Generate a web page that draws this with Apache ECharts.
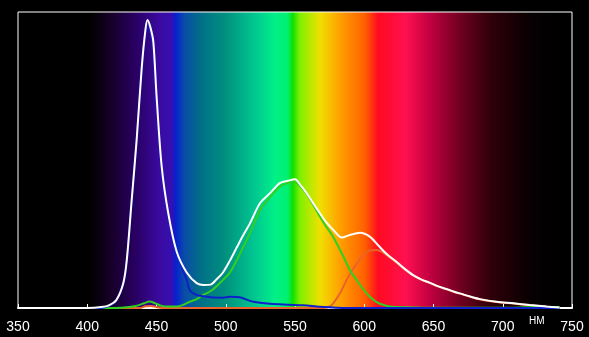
<!DOCTYPE html>
<html><head><meta charset="utf-8">
<script src="https://cdn.jsdelivr.net/npm/echarts@6/dist/echarts.min.js"></script>
<style>html,body{margin:0;padding:0;background:#000;}#c{width:589px;height:337px;}</style>
</head><body><div id="c"></div>
<script>
const xTicks = [350, 400, 450, 500, 550, 600, 650, 700, 750];
const unitLabel = 'НМ';
const white = [[350,0],[400,0],[410,0.3],[416,1],[421,2.7],[426,8.4],[428.5,16],[432,36],[435.7,57],[439.3,81],[442,94],[443.5,97.3],[445.5,95],[447.7,90],[450,72],[453.7,48],[458.5,32],[464.6,19],[471.8,12],[479,8.4],[484,7.8],[489,7.9],[493,9.5],[498,12],[503,16],[508,20.5],[512.5,24.5],[517.5,28.6],[524.7,35.4],[532,38.8],[539,42.2],[545,43],[550,43.5],[554,41.5],[558.4,38.8],[563,35.5],[568,32],[572.5,29],[577.6,26.4],[583.7,23.8],[589.7,24.7],[597,25.4],[604,24.1],[610,21.2],[616,18.3],[623,15.7],[629,13.3],[635,11.2],[641,9.7],[647.5,8.5],[653,7.4],[659.5,6.4],[665,5.5],[671.5,4.6],[677,3.8],[683.6,3],[695.6,2.1],[707.6,1.6],[719.7,1],[731.7,0.5],[741,0.2]];
const blue = [[350,0],[410,0],[416,0.8],[421,2.5],[426,8],[428.5,15.5],[432,35.5],[435.7,56.5],[439.3,80],[442,93],[443.5,96],[445.5,93.5],[447.7,88.5],[450,70.5],[453.7,47],[458.5,31.5],[464.6,18.5],[471.8,9.5],[474,6],[479,4.4],[484,4],[489,3.6],[498,3.5],[503,3.8],[510,3.6],[520,2.1],[532,1.4],[545,1.1],[556,0.9],[568,0.4],[580,0.1],[600,0],[741,0]];
const green = [[350,0],[420,0],[430,0.3],[436,0.8],[441,1.6],[445,2.2],[449,1.6],[453,0.8],[458,0.5],[465,0.5],[470,1.2],[474,2.1],[479,3],[484,4.5],[490,6],[498,9.5],[503,12],[508,16.2],[512.5,20.5],[517.5,25.3],[524.7,33],[532,37.5],[539,41],[545,42.3],[550,42.6],[554,41],[558,38.8],[563,35],[568,30.8],[572.5,27.5],[577.6,24],[585,17.3],[590,12.5],[594.5,9.5],[599,6.5],[604,3.8],[609,2],[614,1],[620,0.4],[640,0.2],[700,0.1],[725,0.3],[741,0.3]];
const red = [[350,0],[438,0],[442,0.6],[446,0.7],[450,0.3],[456,0],[570,0],[575,0.5],[577.6,1.6],[582.5,5],[587.3,9.5],[591,12.5],[594.5,15],[599,17.6],[604,19.4],[609,19.6],[613,18.9],[616,17.9],[623,15.4],[629,13.1],[635,11.0],[641,9.6],[647.5,8.4],[653,7.3],[659.5,6.3],[665,5.4],[671.5,4.5],[677,3.7],[683.6,2.9],[695.6,2],[707.6,1.5],[719.7,0.9],[731.7,0.4],[741,0.1]];

const spectrum = new echarts.graphic.LinearGradient(0, 0, 1, 0, [
  {offset:0, color:'#000000'},{offset:0.13, color:'#000000'},{offset:0.166, color:'#150025'},
  {offset:0.211, color:'#280060'},{offset:0.256, color:'#3a0aa0'},{offset:0.278, color:'#3510b0'},
  {offset:0.285, color:'#0520d0'},{offset:0.301, color:'#0a4ca8'},{offset:0.329, color:'#006e88'},
  {offset:0.374, color:'#00907f'},{offset:0.428, color:'#00c890'},{offset:0.464, color:'#00f088'},
  {offset:0.487, color:'#00f070'},{offset:0.496, color:'#10e000'},{offset:0.509, color:'#80f000'},
  {offset:0.545, color:'#f0e000'},{offset:0.581, color:'#ffa000'},{offset:0.626, color:'#ff6000'},
  {offset:0.650, color:'#ff0a20'},{offset:0.699, color:'#ff1050'},{offset:0.744, color:'#c00040'},
  {offset:0.798, color:'#700020'},{offset:0.852, color:'#300008'},{offset:0.924, color:'#080002'},
  {offset:0.97, color:'#000000'},{offset:1, color:'#000000'}
]);

const chart = echarts.init(document.getElementById('c'), null, {renderer:'canvas'});
function line(data, color, z) {
  return {type:'line', data:data, showSymbol:false, smooth:0.3, z:z,
    lineStyle:{color:color, width:2}, animation:false};
}
chart.setOption({
  backgroundColor:'#000000',
  animation:false,
  grid:{left:18, right:17, top:12, bottom:29, show:true, backgroundColor:spectrum, borderColor:'#ffffff', borderWidth:1},
  xAxis:{type:'value', min:350, max:750, interval:50,
    axisLine:{show:true, lineStyle:{color:'#ffffff', width:2}},
    axisTick:{show:true, inside:true, length:4, lineStyle:{color:'#ffffff', width:1}},
    axisLabel:{color:'#ffffff', fontSize:14, fontFamily:'Liberation Sans Narrow, Liberation Sans, Arial', margin:12,
      formatter:function(v){ return xTicks.indexOf(v) >= 0 ? String(v) : ''; }},
    splitLine:{show:false}},
  yAxis:{type:'value', min:0, max:100, show:false, splitLine:{show:false}},
  graphic:[{type:'text', left:529, top:316, style:{text:unitLabel, fill:'#ffffff', fontSize:10, fontFamily:'Liberation Sans, Arial'}}],
  series:[line(red, '#e8642c', 2), line(green, '#30d020', 3), line(blue, '#1020c8', 4), line(white, '#ffffff', 5)]
});
</script></body></html>
